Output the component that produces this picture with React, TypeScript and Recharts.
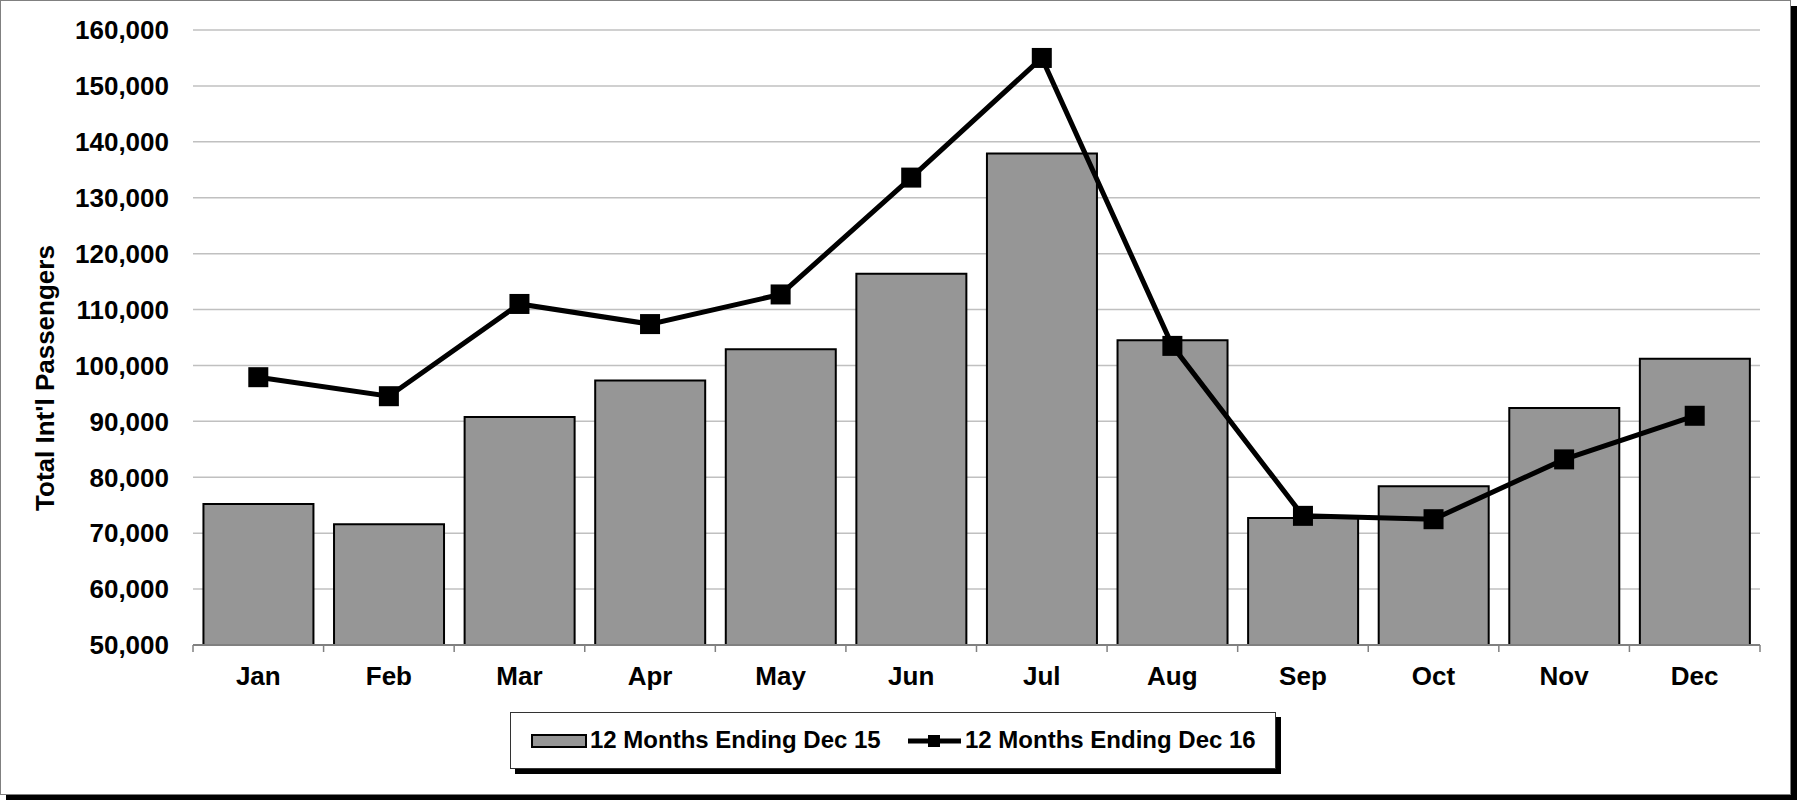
import React from "react";
import { ComposedChart, Bar, Line, XAxis, YAxis, CartesianGrid } from "recharts";

const months = ["Jan", "Feb", "Mar", "Apr", "May", "Jun", "Jul", "Aug", "Sep", "Oct", "Nov", "Dec"];
const dec15 = [75200, 71600, 90800, 97300, 102900, 116400, 137900, 104500, 72700, 78400, 92400, 101200];
const dec16 = [97900, 94500, 111000, 107400, 112700, 133600, 155000, 103500, 73100, 72500, 83200, 91000];
const yTicks = [50000, 60000, 70000, 80000, 90000, 100000, 110000, 120000, 130000, 140000, 150000, 160000];

const data = months.map((m, i) => ({ month: m, dec15: dec15[i], dec16: dec16[i] }));

const FONT = "'Liberation Sans', Arial, Helvetica, sans-serif";
const W = 1789;
const H = 793;
const Y_W = 192;
const M_RIGHT = 30;
const BAND = (W - Y_W - M_RIGHT) / months.length;

// label in the middle of the band, tick marks on the band edges
const MonthTick = (props: any) => {
  const { x, y, payload, index } = props;
  return (
    <g>
      <line x1={x - BAND / 2} x2={x - BAND / 2} y1={y} y2={y + 7} stroke="#808080" strokeWidth={1.5} />
      {index === months.length - 1 && (
        <line x1={x + BAND / 2} x2={x + BAND / 2} y1={y} y2={y + 7} stroke="#808080" strokeWidth={1.5} />
      )}
      <text x={x} y={y + 40} textAnchor="middle" fontSize={26} fontWeight="bold" fill="#000" fontFamily={FONT}>
        {payload.value}
      </text>
    </g>
  );
};

const SquareDot = (p: any) => {
  if (p.cx == null || p.cy == null) return null;
  return <rect key={`dot-${p.index}`} x={p.cx - 10} y={p.cy - 10} width={20} height={20} fill="#000" />;
};

const TitleLabel = () => (
  <text
    transform="translate(44,377) rotate(-90)"
    textAnchor="middle"
    dominantBaseline="central"
    fontSize={26}
    fontWeight="bold"
    fill="#000"
    fontFamily={FONT}
  >
    Total Int'l Passengers
  </text>
);

const ChartLegend = () => (
  <div
    style={{
      position: "absolute",
      left: 510,
      top: 712,
      width: 766,
      height: 57,
      boxSizing: "border-box",
      border: "1px solid #333",
      background: "#fff",
      boxShadow: "5px 5px 0 #000",
    }}
  >
    <svg width={764} height={55} style={{ display: "block" }}>
      <rect x={21} y={22} width={54} height={12} fill="#969696" stroke="#000" strokeWidth={2} />
      <text x={79} y={35} fontSize={24} fontWeight="bold" fill="#000" fontFamily={FONT}>
        12 Months Ending Dec 15
      </text>
      <line x1={397} x2={450} y1={28} y2={28} stroke="#000" strokeWidth={5} />
      <rect x={417} y={22} width={12} height={12} fill="#000" />
      <text x={454} y={35} fontSize={24} fontWeight="bold" fill="#000" fontFamily={FONT}>
        12 Months Ending Dec 16
      </text>
    </svg>
  </div>
);

export default function App() {
  return (
    <div style={{ position: "absolute", left: 0, top: 0, width: 1797, height: 800, fontFamily: FONT }}>
      <div
        style={{
          position: "absolute",
          left: 0,
          top: 0,
          width: W,
          height: H,
          border: "1px solid #808080",
          background: "#fff",
          boxShadow: "6px 6px 0 #000",
        }}
      >
        <ComposedChart
          width={W}
          height={H}
          data={data}
          margin={{ top: 29, right: M_RIGHT, bottom: 89, left: 0 }}
          barCategoryGap="8%"
        >
          <CartesianGrid vertical={false} stroke="#c0c0c0" strokeWidth={1.5} />
          <XAxis
            dataKey="month"
            height={60}
            stroke="#808080"
            strokeWidth={2}
            tickLine={false}
            tickSize={0}
            tickMargin={0}
            tick={<MonthTick />}
            interval={0}
          />
          <YAxis
            width={Y_W}
            domain={[50000, 160000]}
            ticks={yTicks}
            axisLine={false}
            tickLine={false}
            tickMargin={18}
            tickFormatter={(v: number) => v.toLocaleString("en-US")}
            tick={{ fontSize: 26, fontWeight: "bold", fill: "#000", fontFamily: FONT }}
            label={{ value: "Total Int'l Passengers", content: TitleLabel }}
          />
          <Bar dataKey="dec15" fill="#969696" stroke="#000" strokeWidth={2} isAnimationActive={false} />
          <Line
            dataKey="dec16"
            type="linear"
            stroke="#000"
            strokeWidth={5}
            dot={SquareDot}
            activeDot={false}
            isAnimationActive={false}
          />
        </ComposedChart>
      </div>
      <ChartLegend />
    </div>
  );
}
